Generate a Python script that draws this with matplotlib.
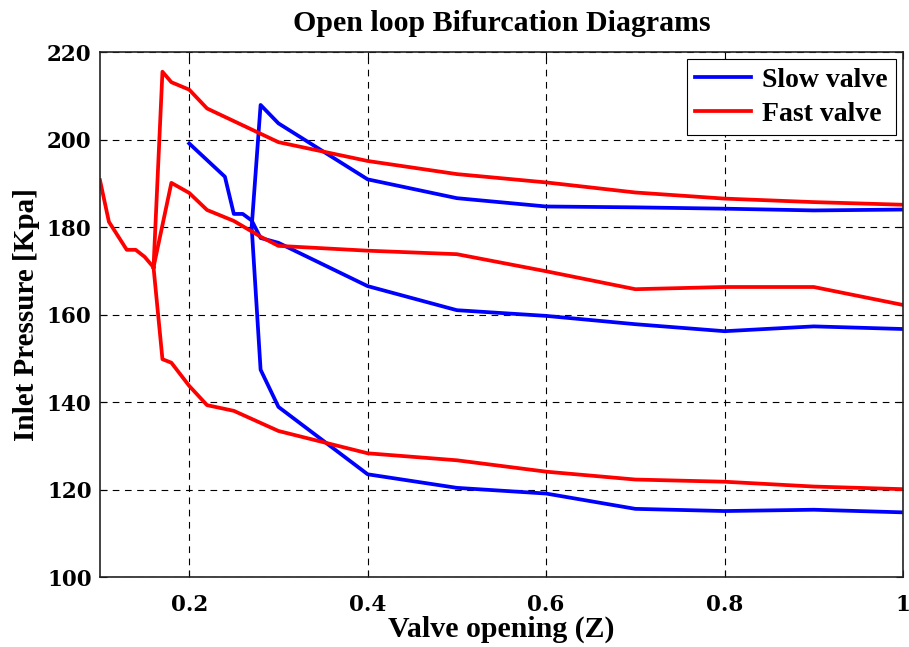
import matplotlib
matplotlib.use("Agg")
import matplotlib.pyplot as plt

# Slow valve: stable upper branch, turning point and stable lower branch
slow_outer_z = [1.0, 0.9, 0.8, 0.7, 0.6, 0.5, 0.4, 0.3, 0.28, 0.27,
                0.28, 0.3, 0.4, 0.5, 0.6, 0.7, 0.8, 0.9, 1.0]
slow_outer_p = [184.0, 183.8, 184.2, 184.5, 184.7, 186.6, 190.9, 203.7, 207.9, 180.0,
                147.4, 138.9, 123.5, 120.4, 119.1, 115.6, 115.1, 115.4, 114.8]
# Slow valve: middle branch
slow_mid_z = [0.2, 0.24, 0.25, 0.26, 0.27, 0.28, 0.3, 0.4, 0.5, 0.6, 0.7, 0.8, 0.9, 1.0]
slow_mid_p = [199.1, 191.5, 183.0, 183.0, 181.5, 177.5, 176.4, 166.5, 161.0, 159.7,
              157.8, 156.2, 157.3, 156.7]

# Fast valve: low opening branch
fast_low_z = [0.1, 0.11, 0.13, 0.14, 0.15, 0.16]
fast_low_p = [190.7, 181.2, 174.8, 174.8, 173.2, 170.8]
# Fast valve: upper branch
fast_up_z = [0.16, 0.17, 0.18, 0.2, 0.22, 0.3, 0.4, 0.5, 0.6, 0.7, 0.8, 0.9, 1.0]
fast_up_p = [170.8, 215.5, 213.1, 211.4, 207.1, 199.4, 195.1, 192.1, 190.2, 187.9,
             186.5, 185.7, 185.1]
# Fast valve: middle branch
fast_mid_z = [0.16, 0.18, 0.2, 0.22, 0.25, 0.28, 0.3, 0.4, 0.5, 0.6, 0.7, 0.8, 0.9, 1.0]
fast_mid_p = [170.8, 190.1, 187.8, 183.9, 181.4, 177.8, 175.7, 174.6, 173.8, 169.9,
              165.8, 166.3, 166.3, 162.2]
# Fast valve: lower branch
fast_bot_z = [0.16, 0.17, 0.18, 0.2, 0.22, 0.25, 0.3, 0.4, 0.5, 0.6, 0.7, 0.8, 0.9, 1.0]
fast_bot_p = [170.8, 149.8, 149.0, 143.7, 139.3, 138.0, 133.4, 128.3, 126.7, 124.1,
              122.3, 121.8, 120.7, 120.1]

x_ticks = [0.2, 0.4, 0.6, 0.8, 1.0]
x_tick_labels = ["0.2", "0.4", "0.6", "0.8", "1"]
y_ticks = [100, 120, 140, 160, 180, 200, 220]

serif = "Liberation Serif"
tick_font = {"family": "DejaVu Serif", "weight": "bold", "size": 15.5}

fig = plt.figure(figsize=(9.09, 6.47), dpi=100)
ax = fig.add_axes([0.110, 0.108, 0.8834, 0.8116])

lw = 2.7
blue = "#0000ff"
red = "#ff0000"
ax.plot(slow_outer_z, slow_outer_p, color=blue, lw=lw, label="Slow valve")
ax.plot(slow_mid_z, slow_mid_p, color=blue, lw=lw)
ax.plot(fast_low_z, fast_low_p, color=red, lw=lw, label="Fast valve")
ax.plot(fast_up_z, fast_up_p, color=red, lw=lw)
ax.plot(fast_mid_z, fast_mid_p, color=red, lw=lw)
ax.plot(fast_bot_z, fast_bot_p, color=red, lw=lw)

ax.set_xlim(0.1, 1.0)
ax.set_ylim(100, 220)
ax.set_xticks(x_ticks)
ax.set_xticklabels(x_tick_labels, fontdict=tick_font)
ax.set_yticks(y_ticks)
ax.set_yticklabels([str(v) for v in y_ticks], fontdict=tick_font)
ax.tick_params(direction="in", length=5, width=0.8, top=True, right=True)
ax.tick_params(axis="x", pad=12)
ax.tick_params(axis="y", pad=6)

ax.grid(True, color="black", linestyle=(0, (6, 5)), linewidth=0.8)
for s in ax.spines.values():
    s.set_linewidth(1.2)
    s.set_color("#222222")

ax.set_title("Open loop Bifurcation Diagrams", family=serif, weight="bold",
             size=21.5, pad=15)
ax.set_xlabel("Valve opening (Z)", family=serif, weight="bold", size=21.5, labelpad=0)
ax.set_ylabel("Inlet Pressure [Kpa]", family=serif, weight="bold", size=21, labelpad=5)

leg = ax.legend(loc="upper right", prop={"family": serif, "weight": "bold", "size": 20},
                frameon=True, fancybox=False, edgecolor="black", framealpha=1,
                handlelength=2.0, borderaxespad=0.25, labelspacing=0.3,
                borderpad=0.3, handletextpad=0.4)
leg.get_frame().set_linewidth(0.8)

fig.savefig("out.png", dpi=100)
